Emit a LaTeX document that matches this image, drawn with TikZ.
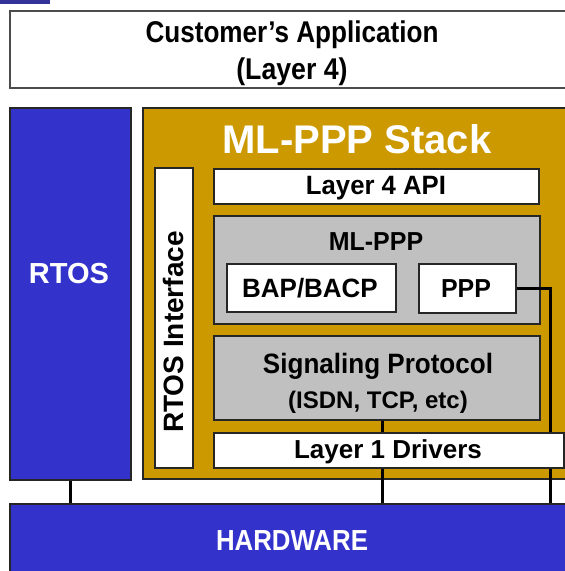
\documentclass[tikz,border=0pt]{standalone}
\usepackage{fontspec}
\setmainfont{Liberation Sans}
\usepackage{graphicx}
\definecolor{hwblue}{RGB}{51,51,204}
\definecolor{barblue}{RGB}{51,51,153}
\definecolor{stackgold}{RGB}{204,153,0}
\definecolor{layergray}{RGB}{192,192,192}
\newcommand{\hs}[2]{\scalebox{#1}[1]{#2}}
\newcommand{\ft}[1]{\fontsize{#1}{#1}\selectfont\bfseries}
\begin{document}
\begin{tikzpicture}[x=1pt,y=-1pt,
  box/.style={draw=black!85, line width=1.5pt, inner sep=0pt, anchor=north west},
  lbl/.style={anchor=base, inner sep=0pt},
  wire/.style={line width=3pt, black}]
\useasboundingbox (0,0) rectangle (565,571);
\clip (0,0) rectangle (565,571);

% corner bar
\fill[barblue] (0,0) rectangle (50,4);

% application layer
\node[box, draw=black!70, fill=white, minimum width=566pt, minimum height=77pt] (cust) at (9,10) {};
\node[lbl, font=\ft{30}] (custA) at (292,42) {\hs{0.87}{Customer’s Application}};
\node[lbl, font=\ft{30}] (custB) at (292,79) {\hs{0.89}{(Layer 4)}};

% RTOS
\node[box, fill=hwblue, minimum width=121pt, minimum height=372pt] (rtos) at (9,107) {};
\node[lbl, font=\ft{29}, text=white] (rtosT) at (69,283) {RTOS};

% ML-PPP stack
\node[box, fill=stackgold, minimum width=440pt, minimum height=371pt] (stack) at (142,107) {};
\node[lbl, font=\ft{40}, text=white] (stackT) at (357,153) {ML-PPP Stack};

\node[box, fill=white, minimum width=38pt, minimum height=300pt] (rif) at (154,167) {};
\node[lbl, font=\ft{28}, rotate=90] (rifT) at (183,332) {RTOS Interface};

\node[box, fill=white, minimum width=325pt, minimum height=35pt] (api) at (213,168) {};
\node[lbl, font=\ft{26.5}] (apiT) at (376,194) {\hs{0.97}{Layer 4 API}};

\node[box, fill=layergray, minimum width=326pt, minimum height=108pt] (ml) at (213,215) {};
\node[lbl, font=\ft{26}] (mlT) at (376,250) {\hs{0.96}{ML-PPP}};
\node[box, fill=white, minimum width=169pt, minimum height=48pt] (bap) at (226,263) {};
\node[lbl, font=\ft{26.5}] (bapT) at (310,297) {\hs{0.98}{BAP/BACP}};
\node[box, fill=white, minimum width=97pt, minimum height=49pt] (ppp) at (418,263) {};
\node[lbl, font=\ft{26}] (pppT) at (466,297) {\hs{0.96}{PPP}};

\node[box, fill=layergray, minimum width=326pt, minimum height=84pt] (sig) at (213,335) {};
\node[lbl, font=\ft{28}] (sigA) at (378,373) {\hs{0.93}{Signaling Protocol}};
\node[lbl, font=\ft{24}] (sigB) at (378,408) {(ISDN, TCP, etc)};

% hardware
\node[box, fill=hwblue, minimum width=566pt, minimum height=80pt] (hw) at (9,503) {};
\node[lbl, font=\ft{29}, text=white] (hwT) at (292,550) {\hs{0.89}{HARDWARE}};

% connections down to the hardware
\coordinate (drop) at (550,0);
\draw[wire] (rtos.south) -- (rtos.south |- hw.north);
\draw[wire] ([xshift=6pt]sig.south) -- ([xshift=6pt]sig.south |- hw.north);
\draw[wire] (ppp.east) -| (drop |- hw.north);

% drivers sit over the wires
\node[box, fill=white, minimum width=350pt, minimum height=35pt] (drv) at (213,432) {};
\node[lbl, font=\ft{26}] (drvT) at (388,458) {Layer 1 Drivers};
\end{tikzpicture}
\end{document}
